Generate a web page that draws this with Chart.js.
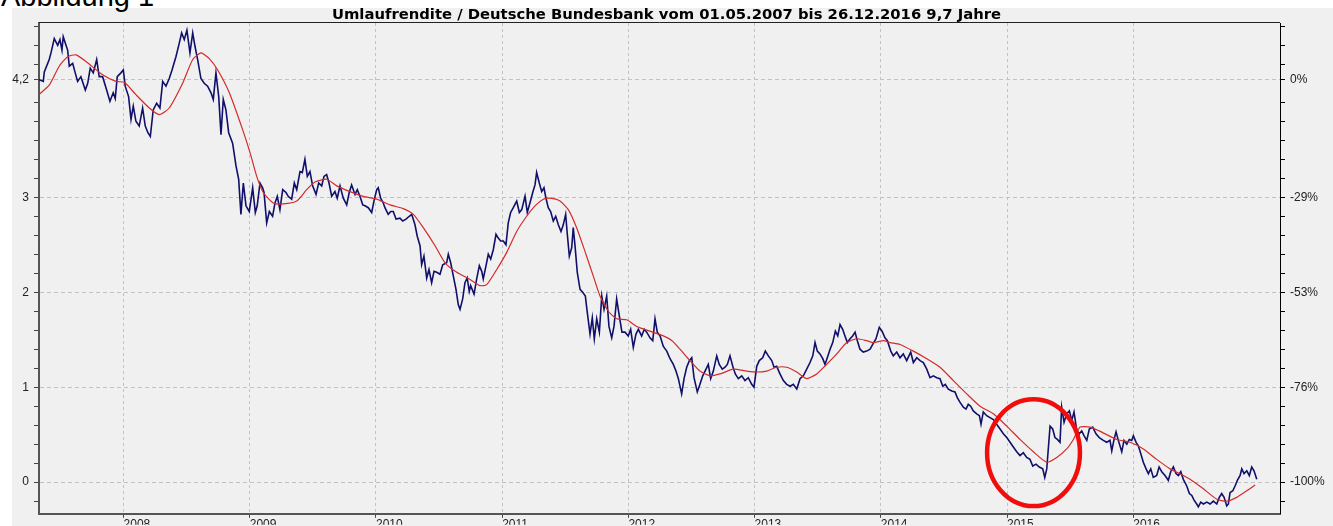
<!DOCTYPE html>
<html>
<head>
<meta charset="utf-8">
<title>Umlaufrendite</title>
<script src="https://cdn.jsdelivr.net/npm/chart.js@4.4.1/dist/chart.umd.min.js"></script>
<style>
  html, body { margin: 0; padding: 0; background: #fff; overflow: hidden; }
  #panel { position: absolute; left: 12px; top: 8px; width: 1321px; height: 518px; background: #f0f0f0; }
  #caption { position: absolute; left: 1px; top: -18px; font-family: "Liberation Sans", Arial, sans-serif; font-size: 29px; line-height: 29px; color: #000; white-space: nowrap; }
  #wrap { position: absolute; left: 0; top: 0; width: 1333px; height: 526px; }
</style>
</head>
<body>
<div id="panel"></div>
<div id="caption">Abbildung 1</div>
<div id="wrap"><canvas id="yieldChart" width="1333" height="526"></canvas></div>
<script>
// Umlaufrendite (daily yield) - x in decimal years
const blueYears = [
  2007.327, 2007.364, 2007.372, 2007.411, 2007.425, 2007.451, 2007.478, 2007.496, 2007.512, 2007.522,
  2007.544, 2007.557, 2007.570, 2007.597, 2007.617, 2007.636, 2007.662, 2007.697, 2007.716, 2007.736,
  2007.760, 2007.787, 2007.807, 2007.834, 2007.866, 2007.892, 2007.918, 2007.934, 2007.950, 2007.979,
  2007.998, 2008.013, 2008.040, 2008.059, 2008.077, 2008.098, 2008.124, 2008.151, 2008.172, 2008.193,
  2008.212, 2008.235, 2008.262, 2008.288, 2008.310, 2008.336, 2008.362, 2008.384, 2008.415, 2008.441,
  2008.460, 2008.481, 2008.502, 2008.526, 2008.548, 2008.566, 2008.587, 2008.613, 2008.639, 2008.666,
  2008.693, 2008.711, 2008.732, 2008.754, 2008.772, 2008.790, 2008.811, 2008.833, 2008.864, 2008.891,
  2008.912, 2008.930, 2008.949, 2008.970, 2008.996, 2009.023, 2009.044, 2009.059, 2009.081, 2009.102,
  2009.113, 2009.134, 2009.155, 2009.181, 2009.200, 2009.218, 2009.239, 2009.261, 2009.287, 2009.305,
  2009.332, 2009.353, 2009.372, 2009.398, 2009.416, 2009.437, 2009.456, 2009.477, 2009.498, 2009.525,
  2009.546, 2009.570, 2009.588, 2009.609, 2009.628, 2009.649, 2009.675, 2009.693, 2009.715, 2009.741,
  2009.768, 2009.788, 2009.807, 2009.834, 2009.852, 2009.873, 2009.895, 2009.913, 2009.939, 2009.966,
  2009.984, 2010.006, 2010.018, 2010.037, 2010.058, 2010.071, 2010.097, 2010.117, 2010.137, 2010.159,
  2010.190, 2010.212, 2010.238, 2010.264, 2010.283, 2010.309, 2010.327, 2010.349, 2010.362, 2010.380,
  2010.402, 2010.420, 2010.441, 2010.460, 2010.481, 2010.507, 2010.529, 2010.560, 2010.573, 2010.592,
  2010.613, 2010.634, 2010.652, 2010.666, 2010.687, 2010.705, 2010.723, 2010.739, 2010.750, 2010.777,
  2010.798, 2010.819, 2010.838, 2010.850, 2010.872, 2010.890, 2010.909, 2010.930, 2010.951, 2010.969,
  2010.988, 2011.009, 2011.030, 2011.048, 2011.067, 2011.088, 2011.115, 2011.136, 2011.155, 2011.181,
  2011.199, 2011.220, 2011.242, 2011.260, 2011.273, 2011.294, 2011.313, 2011.331, 2011.347, 2011.365,
  2011.384, 2011.405, 2011.424, 2011.445, 2011.466, 2011.484, 2011.503, 2011.516, 2011.532, 2011.551,
  2011.563, 2011.577, 2011.595, 2011.617, 2011.638, 2011.659, 2011.674, 2011.696, 2011.714, 2011.730,
  2011.749, 2011.770, 2011.789, 2011.807, 2011.828, 2011.846, 2011.868, 2011.886, 2011.907, 2011.928,
  2011.949, 2011.973, 2011.999, 2012.018, 2012.039, 2012.060, 2012.079, 2012.105, 2012.126, 2012.145,
  2012.171, 2012.193, 2012.211, 2012.229, 2012.251, 2012.277, 2012.304, 2012.330, 2012.356, 2012.377,
  2012.396, 2012.422, 2012.441, 2012.462, 2012.483, 2012.502, 2012.520, 2012.546, 2012.567, 2012.589,
  2012.615, 2012.633, 2012.652, 2012.673, 2012.700, 2012.720, 2012.744, 2012.766, 2012.784, 2012.805,
  2012.827, 2012.847, 2012.871, 2012.898, 2012.924, 2012.950, 2012.977, 2012.995, 2013.017, 2013.037,
  2013.064, 2013.085, 2013.109, 2013.136, 2013.154, 2013.175, 2013.201, 2013.228, 2013.254, 2013.281,
  2013.307, 2013.334, 2013.360, 2013.386, 2013.413, 2013.439, 2013.461, 2013.479, 2013.497, 2013.518,
  2013.540, 2013.558, 2013.576, 2013.598, 2013.619, 2013.640, 2013.659, 2013.677, 2013.698, 2013.716,
  2013.735, 2013.756, 2013.777, 2013.796, 2013.814, 2013.835, 2013.861, 2013.888, 2013.915, 2013.936,
  2013.962, 2013.988, 2014.010, 2014.033, 2014.052, 2014.079, 2014.099, 2014.126, 2014.152, 2014.178,
  2014.205, 2014.237, 2014.258, 2014.285, 2014.311, 2014.337, 2014.364, 2014.390, 2014.416, 2014.443,
  2014.469, 2014.491, 2014.511, 2014.535, 2014.562, 2014.588, 2014.606, 2014.628, 2014.654, 2014.675,
  2014.693, 2014.712, 2014.733, 2014.760, 2014.781, 2014.794, 2014.812, 2014.839, 2014.865, 2014.892,
  2014.918, 2014.945, 2014.971, 2014.998, 2015.024, 2015.050, 2015.077, 2015.103, 2015.129, 2015.156,
  2015.182, 2015.204, 2015.230, 2015.256, 2015.283, 2015.299, 2015.315, 2015.327, 2015.341, 2015.362,
  2015.380, 2015.399, 2015.420, 2015.433, 2015.452, 2015.473, 2015.494, 2015.513, 2015.531, 2015.553,
  2015.573, 2015.592, 2015.610, 2015.632, 2015.652, 2015.679, 2015.705, 2015.731, 2015.763, 2015.790,
  2015.816, 2015.830, 2015.848, 2015.864, 2015.882, 2015.909, 2015.927, 2015.949, 2015.969, 2015.988,
  2016.001, 2016.023, 2016.041, 2016.060, 2016.080, 2016.102, 2016.120, 2016.139, 2016.159, 2016.186,
  2016.205, 2016.226, 2016.252, 2016.278, 2016.297, 2016.318, 2016.339, 2016.358, 2016.377, 2016.397,
  2016.424, 2016.445, 2016.464, 2016.482, 2016.503, 2016.516, 2016.535, 2016.556, 2016.583, 2016.609,
  2016.635, 2016.662, 2016.682, 2016.701, 2016.720, 2016.741, 2016.754, 2016.767, 2016.789, 2016.807,
  2016.825, 2016.847, 2016.860, 2016.878, 2016.900, 2016.920, 2016.939, 2016.957, 2016.979
];
const blueValues = [
  4.24, 4.22, 4.32, 4.45, 4.52, 4.67, 4.60, 4.66, 4.55, 4.69,
  4.60, 4.55, 4.38, 4.41, 4.31, 4.22, 4.27, 4.13, 4.20, 4.36,
  4.31, 4.45, 4.27, 4.27, 4.13, 4.01, 4.10, 4.04, 4.27, 4.31,
  4.34, 4.17, 4.06, 3.82, 3.96, 3.80, 3.75, 3.94, 3.75, 3.68,
  3.64, 3.92, 3.99, 3.94, 4.22, 4.17, 4.25, 4.34, 4.48, 4.62,
  4.73, 4.66, 4.76, 4.52, 4.73, 4.59, 4.45, 4.25, 4.20, 4.17,
  4.10, 4.03, 4.31, 4.06, 3.66, 4.03, 3.92, 3.68, 3.57, 3.33,
  3.19, 2.82, 3.15, 2.91, 2.85, 3.10, 2.84, 2.91, 3.15, 3.10,
  3.05, 2.73, 2.85, 2.80, 2.94, 3.01, 2.87, 3.08, 3.05, 3.01,
  2.98, 3.15, 3.08, 3.27, 3.26, 3.40, 3.22, 3.27, 3.12, 3.03,
  3.15, 3.12, 3.22, 3.24, 3.15, 3.01, 3.06, 2.99, 3.12, 2.99,
  2.92, 3.05, 3.13, 3.03, 3.08, 3.01, 2.92, 2.91, 2.89, 2.84,
  2.96, 3.08, 3.10, 2.99, 2.94, 2.89, 2.82, 2.85, 2.85, 2.77,
  2.78, 2.75, 2.77, 2.80, 2.82, 2.71, 2.59, 2.49, 2.29, 2.38,
  2.15, 2.24, 2.10, 2.22, 2.21, 2.19, 2.29, 2.31, 2.40, 2.31,
  2.17, 2.03, 1.87, 1.82, 1.93, 2.10, 2.15, 2.01, 2.07, 1.98,
  2.14, 2.28, 2.22, 2.14, 2.28, 2.40, 2.35, 2.45, 2.61, 2.57,
  2.54, 2.54, 2.50, 2.73, 2.84, 2.89, 2.96, 2.84, 2.87, 3.01,
  2.84, 2.94, 3.05, 3.13, 3.26, 3.15, 3.06, 3.10, 2.99, 2.89,
  2.85, 2.75, 2.80, 2.71, 2.64, 2.71, 2.82, 2.61, 2.38, 2.47,
  2.68, 2.49, 2.21, 2.03, 2.00, 1.96, 1.79, 1.56, 1.73, 1.51,
  1.72, 1.58, 1.96, 1.82, 1.96, 1.64, 1.52, 1.64, 1.93, 1.75,
  1.58, 1.58, 1.54, 1.61, 1.42, 1.56, 1.61, 1.54, 1.61, 1.58,
  1.52, 1.49, 1.72, 1.58, 1.54, 1.43, 1.38, 1.30, 1.24, 1.17,
  1.09, 0.93, 1.09, 1.21, 1.28, 1.31, 1.10, 0.95, 1.03, 1.12,
  1.19, 1.24, 1.09, 1.17, 1.33, 1.24, 1.19, 1.21, 1.24, 1.33,
  1.22, 1.14, 1.09, 1.12, 1.07, 1.10, 1.03, 1.00, 1.22, 1.28,
  1.31, 1.38, 1.33, 1.28, 1.21, 1.22, 1.14, 1.07, 1.03, 1.01,
  1.03, 0.98, 1.09, 1.12, 1.19, 1.26, 1.33, 1.47, 1.38, 1.35,
  1.30, 1.24, 1.31, 1.40, 1.47, 1.59, 1.54, 1.66, 1.61, 1.54,
  1.47, 1.51, 1.54, 1.58, 1.49, 1.40, 1.37, 1.38, 1.40, 1.45,
  1.51, 1.63, 1.59, 1.52, 1.49, 1.38, 1.33, 1.37, 1.31, 1.35,
  1.28, 1.37, 1.26, 1.31, 1.28, 1.26, 1.19, 1.10, 1.12, 1.10,
  1.09, 1.01, 1.03, 0.98, 0.96, 0.95, 0.89, 0.84, 0.79, 0.77,
  0.82, 0.80, 0.75, 0.72, 0.70, 0.61, 0.74, 0.70, 0.68, 0.66,
  0.61, 0.56, 0.51, 0.47, 0.42, 0.37, 0.32, 0.28, 0.31, 0.26,
  0.24, 0.17, 0.19, 0.16, 0.14, 0.05, 0.14, 0.35, 0.59, 0.56,
  0.47, 0.45, 0.42, 0.79, 0.63, 0.72, 0.75, 0.65, 0.74, 0.54,
  0.51, 0.54, 0.49, 0.44, 0.56, 0.58, 0.51, 0.47, 0.44, 0.42,
  0.44, 0.33, 0.45, 0.53, 0.44, 0.32, 0.44, 0.40, 0.45, 0.44,
  0.49, 0.42, 0.38, 0.30, 0.21, 0.14, 0.09, 0.14, 0.05, 0.07,
  0.16, 0.11, 0.07, 0.02, 0.11, 0.16, 0.09, 0.07, 0.11, 0.03,
  -0.04, -0.12, -0.14, -0.19, -0.23, -0.26, -0.21, -0.23, -0.21, -0.23,
  -0.20, -0.23, -0.16, -0.12, -0.16, -0.25, -0.23, -0.11, -0.09, -0.04,
  0.02, 0.07, 0.14, 0.09, 0.12, 0.07, 0.16, 0.12, 0.03
];

// moving average (red line)
const avgYears = [
  2007.327, 2007.411, 2007.490, 2007.557, 2007.623, 2007.702, 2007.834, 2007.940, 2008.006, 2008.098,
  2008.204, 2008.283, 2008.362, 2008.468, 2008.548, 2008.613, 2008.679, 2008.746, 2008.838, 2008.944,
  2009.002, 2009.055, 2009.107, 2009.186, 2009.265, 2009.372, 2009.451, 2009.517, 2009.609, 2009.689,
  2009.794, 2009.899, 2010.006, 2010.111, 2010.216, 2010.296, 2010.375, 2010.468, 2010.547, 2010.640,
  2010.739, 2010.824, 2010.877, 2010.957, 2011.036, 2011.115, 2011.194, 2011.260, 2011.326, 2011.379,
  2011.458, 2011.524, 2011.590, 2011.656, 2011.722, 2011.775, 2011.841, 2011.907, 2011.987, 2012.066,
  2012.171, 2012.277, 2012.346, 2012.409, 2012.488, 2012.567, 2012.647, 2012.726, 2012.831, 2012.937,
  2013.017, 2013.096, 2013.175, 2013.254, 2013.334, 2013.413, 2013.492, 2013.571, 2013.651, 2013.730,
  2013.809, 2013.888, 2013.941, 2014.020, 2014.073, 2014.152, 2014.258, 2014.364, 2014.469, 2014.575,
  2014.681, 2014.786, 2014.892, 2014.998, 2015.103, 2015.209, 2015.315, 2015.394, 2015.473, 2015.526,
  2015.579, 2015.658, 2015.731, 2015.869, 2015.975, 2016.080, 2016.186, 2016.292, 2016.397, 2016.450,
  2016.556, 2016.662, 2016.741, 2016.820, 2016.900, 2016.966
];
const avgValues = [
  4.08, 4.18, 4.38, 4.48, 4.50, 4.43, 4.29, 4.22, 4.21, 4.08,
  3.94, 3.87, 3.94, 4.20, 4.45, 4.52, 4.46, 4.34, 4.10, 3.71,
  3.47, 3.22, 3.05, 2.94, 2.93, 2.96, 3.08, 3.16, 3.19, 3.12,
  3.06, 3.01, 2.98, 2.92, 2.88, 2.82, 2.68, 2.49, 2.31, 2.21,
  2.14, 2.07, 2.08, 2.24, 2.42, 2.64, 2.80, 2.91, 2.98, 2.99,
  2.96, 2.87, 2.68, 2.43, 2.17, 1.96, 1.80, 1.72, 1.71, 1.64,
  1.59, 1.54, 1.49, 1.40, 1.28, 1.17, 1.12, 1.14, 1.19, 1.17,
  1.16, 1.17, 1.21, 1.21, 1.16, 1.09, 1.14, 1.24, 1.35, 1.47,
  1.51, 1.49, 1.47, 1.49, 1.47, 1.45, 1.38, 1.30, 1.21, 1.07,
  0.93, 0.80, 0.72, 0.59, 0.45, 0.32, 0.21, 0.26, 0.35, 0.45,
  0.58, 0.58, 0.54, 0.45, 0.42, 0.35, 0.24, 0.14, 0.07, 0.03,
  -0.07, -0.18, -0.20, -0.16, -0.09, -0.03
];

// axes
const yearTicks = [2008, 2009, 2010, 2011, 2012, 2013, 2014, 2015, 2016];
const startValue = 4.24;
const leftMajorTicks = [0, 1, 2, 3, startValue];
const leftMajorLabels = ['0', '1', '2', '3', '4,2'];
const rightMajorLabels = ['-100%', '-76%', '-53%', '-29%', '0%'];
const chartTitle = 'Umlaufrendite / Deutsche Bundesbank vom 01.05.2007 bis 26.12.2016 9,7 Jahre';

// red marker round the spring 2015 low (data units)
const markerCenter = { x: 2015.21, y: 0.31 };
const markerRadius = { x: 0.368, y: 0.562 };

function toPoints(xs, ys) {
    return xs.map((x, i) => ({ x: x, y: ys[i] }));
}

function majorIndex(v) {
    return leftMajorTicks.findIndex(m => Math.abs(m - v) < 1e-6);
}

// major ticks plus small ticks every 0.2
function buildValueTicks(scale) {
    const ticks = [];
    for (let k = -1; k <= 24; k++) {
        const v = Math.round(k * 20) / 100;
        if (Math.abs(v - 4.2) < 1e-6) continue;
        ticks.push({ value: v });
    }
    leftMajorTicks.forEach(v => {
        if (!ticks.some(t => Math.abs(t.value - v) < 1e-6)) ticks.push({ value: v });
    });
    ticks.sort((a, b) => a.value - b.value);
    scale.ticks = ticks;
}

const labelFont = { family: '"Liberation Sans", Arial, sans-serif', size: 12 };
const gridColor = ctx => (majorIndex(ctx.tick.value) >= 0 ? '#c2c2c2' : 'rgba(0,0,0,0)');

const framePlugin = {
    id: 'frame',
    afterDatasetsDraw(chart) {
        const { ctx, chartArea: a, scales } = chart;
        ctx.save();
        // top edge of the plot frame
        ctx.strokeStyle = '#222';
        ctx.lineWidth = 1;
        ctx.beginPath();
        ctx.moveTo(a.left, Math.round(a.top) - 0.5);
        ctx.lineTo(a.right, Math.round(a.top) - 0.5);
        ctx.stroke();
        // hand-drawn red ellipse
        const cx = scales.x.getPixelForValue(markerCenter.x);
        const cy = scales.y.getPixelForValue(markerCenter.y);
        const rx = Math.abs(scales.x.getPixelForValue(markerCenter.x + markerRadius.x) - cx);
        const ry = Math.abs(scales.y.getPixelForValue(markerCenter.y + markerRadius.y) - cy);
        ctx.strokeStyle = '#f20d0d';
        ctx.lineWidth = 4.5;
        ctx.beginPath();
        ctx.ellipse(cx, cy, rx, ry, 0, 0, Math.PI * 2);
        ctx.stroke();
        ctx.restore();
    }
};

const ctx = document.getElementById('yieldChart').getContext('2d');
const yieldChart = new Chart(ctx, {
    type: 'line',
    data: {
        datasets: [{
            label: 'Durchschnitt',
            data: toPoints(avgYears, avgValues),
            borderColor: '#d42a2a',
            borderWidth: 1.2,
            pointRadius: 0,
            tension: 0.2,
            fill: false
        }, {
            label: 'Umlaufrendite',
            data: toPoints(blueYears, blueValues),
            borderColor: '#10106a',
            borderWidth: 1.6,
            pointRadius: 0,
            tension: 0,
            fill: false
        }]
    },
    options: {
        responsive: false,
        animation: false,
        events: [],
        layout: { padding: 0 },
        plugins: {
            legend: { display: false },
            tooltip: { enabled: false },
            title: {
                display: true,
                text: chartTitle,
                color: '#000',
                font: { family: '"DejaVu Sans", Verdana, sans-serif', size: 14.8, weight: 'bold', lineHeight: 1 },
                padding: { top: 8.2, bottom: 0 }
            }
        },
        scales: {
            x: {
                type: 'linear',
                min: 2007.33,
                max: 2017.163,
                afterBuildTicks: s => { s.ticks = yearTicks.map(v => ({ value: v })); },
                afterFit: s => { s.height = 11; },
                grid: { color: '#c2c2c2', tickColor: '#444', tickLength: 4 },
                border: { color: '#555', width: 2, dash: [3, 3] },
                ticks: {
                    align: 'start',
                    padding: 0,
                    maxRotation: 0,
                    autoSkip: false,
                    color: '#222',
                    font: labelFont,
                    callback: v => String(v)
                }
            },
            y: {
                type: 'linear',
                position: 'left',
                min: -0.333,
                max: 4.835,
                afterBuildTicks: buildValueTicks,
                afterFit: s => { s.width = 39; },
                grid: { color: gridColor, tickColor: '#444', tickLength: 5 },
                border: { color: '#555', width: 2, dash: [4, 3] },
                ticks: {
                    autoSkip: false,
                    padding: 5,
                    color: '#222',
                    font: labelFont,
                    callback: v => { const i = majorIndex(v); return i >= 0 ? leftMajorLabels[i] : ''; }
                }
            },
            y2: {
                type: 'linear',
                position: 'right',
                min: -0.333,
                max: 4.835,
                afterBuildTicks: buildValueTicks,
                afterFit: s => { s.width = 53; },
                grid: { drawOnChartArea: false, color: '#000', tickColor: '#000', tickLength: 5 },
                border: { color: '#000', width: 1 },
                ticks: {
                    autoSkip: false,
                    padding: 5,
                    color: '#222',
                    font: labelFont,
                    callback: v => { const i = majorIndex(v); return i >= 0 ? rightMajorLabels[i] : ''; }
                }
            }
        }
    },
    plugins: [framePlugin]
});
</script>
</body>
</html>
